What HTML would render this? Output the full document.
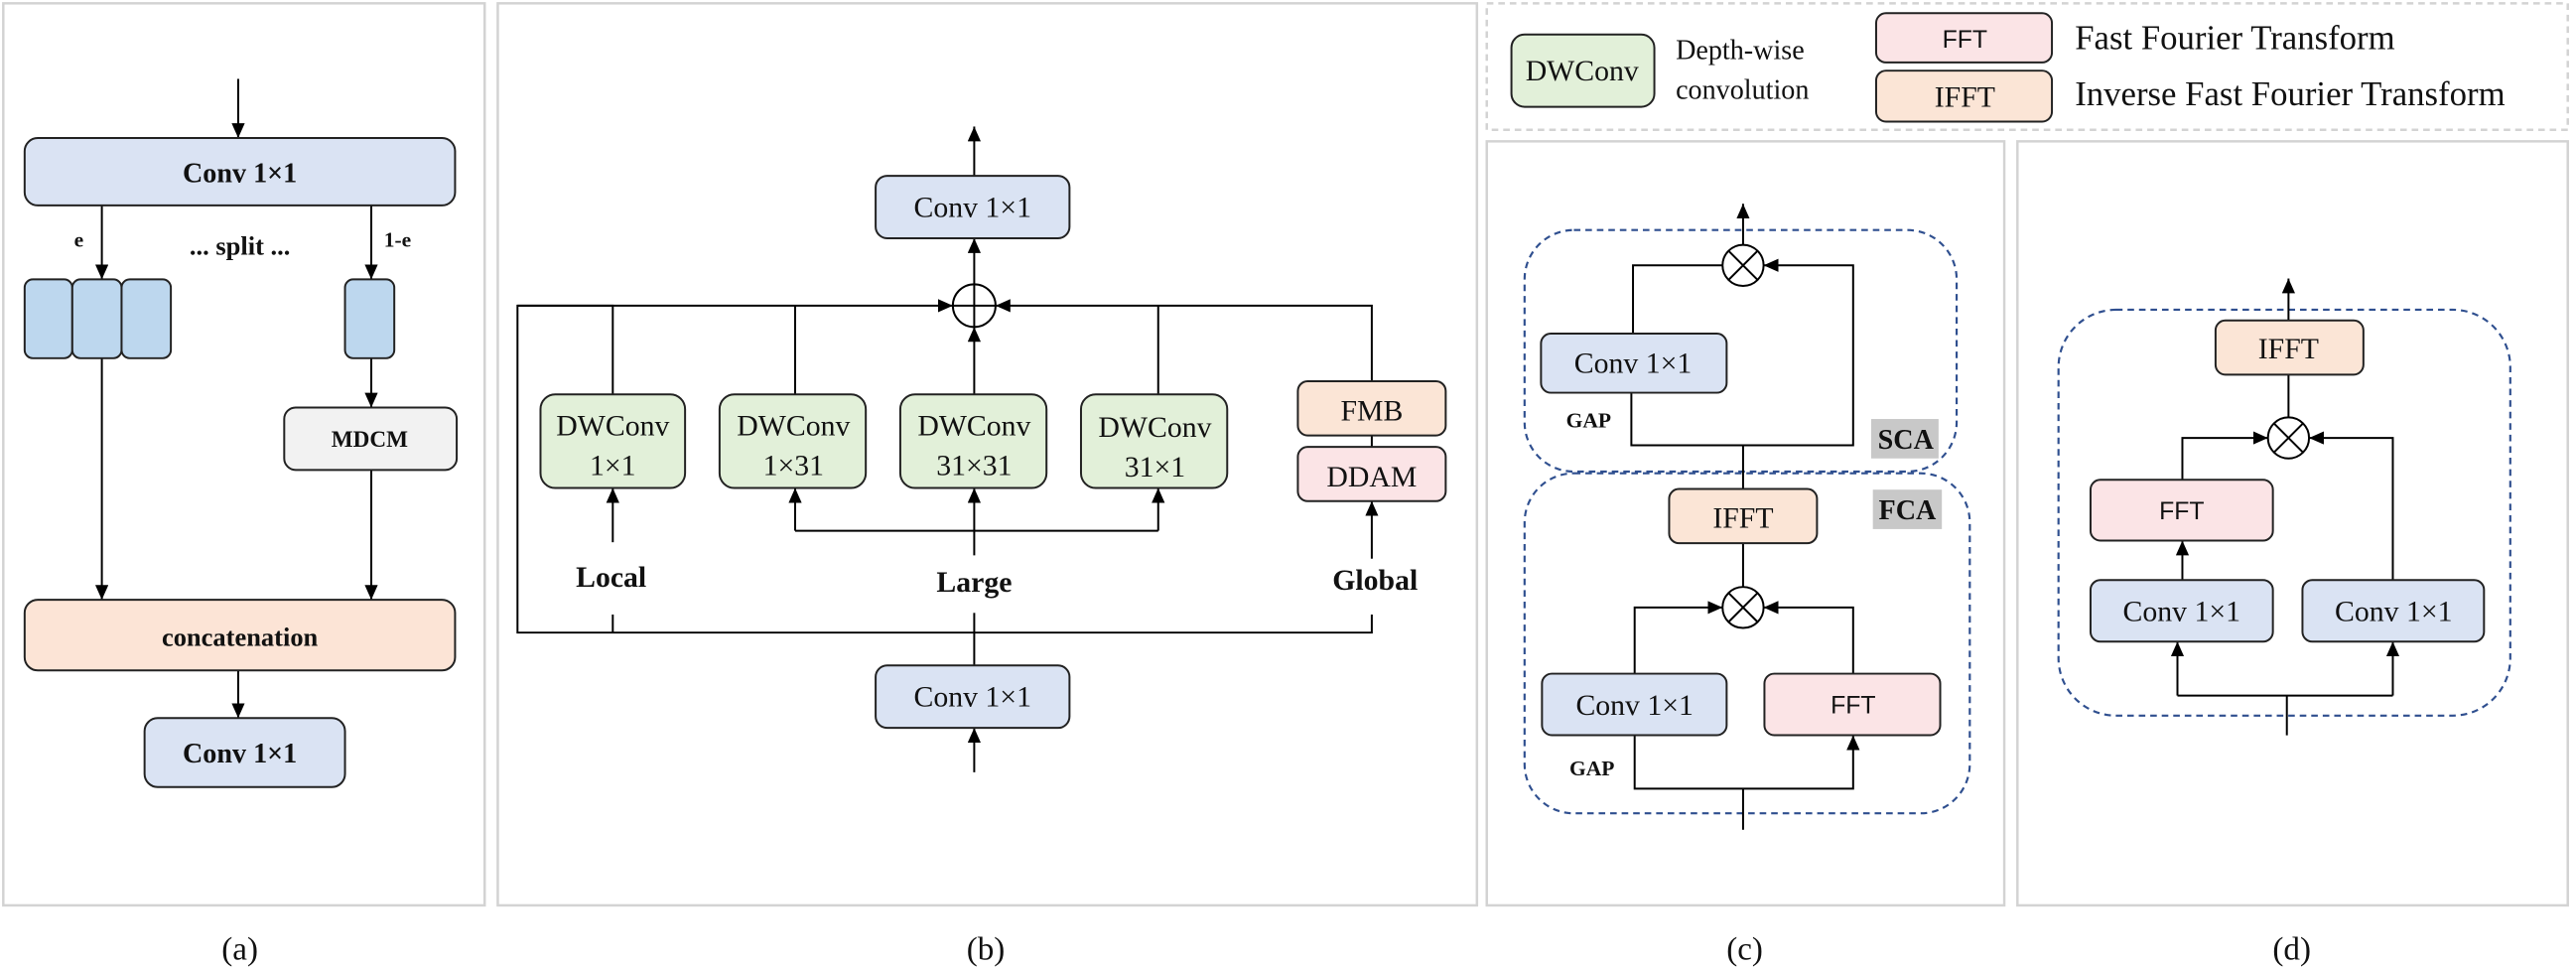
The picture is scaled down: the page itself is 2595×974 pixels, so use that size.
<!DOCTYPE html>
<html><head><meta charset="utf-8"><style>
html,body{margin:0;padding:0;background:#fff;}
svg{display:block}
text{font-family:"Liberation Serif",serif;fill:#111;}
.b{font-weight:bold}
.s{font-family:"Liberation Sans",sans-serif;}
</style></head><body>
<svg width="2595" height="974" viewBox="0 0 1568 588.5" xmlns="http://www.w3.org/2000/svg">
<defs>
<marker id="ar" markerUnits="userSpaceOnUse" markerWidth="10" markerHeight="10" refX="9" refY="4" orient="auto">
<path d="M0,0 L9,4 L0,8 z" fill="#000"/>
</marker>
</defs>
<g fill="none" stroke="#d3d3d3" stroke-width="1.5">
<rect x="2" y="2" width="293" height="549"/>
<rect x="303" y="2" width="596" height="549"/>
<rect x="905" y="86" width="315" height="465"/>
<rect x="1228" y="86" width="335" height="465"/>
<rect x="905" y="2" width="658" height="77" stroke-dasharray="4,3"/>
</g>
<g font-size="20" text-anchor="middle">
<text x="146" y="584">(a)</text><text x="600" y="584">(b)</text>
<text x="1062" y="584">(c)</text><text x="1395" y="584">(d)</text>
</g>

<!-- panel a -->
<g stroke="#000" stroke-width="1.2" fill="none">
<line x1="145" y1="48" x2="145" y2="84" marker-end="url(#ar)"/>
<line x1="62" y1="125" x2="62" y2="170" marker-end="url(#ar)"/>
<line x1="226" y1="125" x2="226" y2="170" marker-end="url(#ar)"/>
<line x1="226" y1="218" x2="226" y2="248" marker-end="url(#ar)"/>
<line x1="62" y1="218" x2="62" y2="365" marker-end="url(#ar)"/>
<line x1="226" y1="286" x2="226" y2="365" marker-end="url(#ar)"/>
<line x1="145" y1="408" x2="145" y2="437" marker-end="url(#ar)"/>
</g>
<g stroke="#222" stroke-width="1.2">
<rect x="15" y="84" width="262" height="41" rx="8" fill="#dae3f3"/>
<rect x="15" y="170" width="29" height="48" rx="5" fill="#bdd7ee"/>
<rect x="44" y="170" width="30" height="48" rx="5" fill="#bdd7ee"/>
<rect x="74" y="170" width="30" height="48" rx="5" fill="#bdd7ee"/>
<rect x="210" y="170" width="30" height="48" rx="5" fill="#bdd7ee"/>
<rect x="173" y="248" width="105" height="38" rx="7" fill="#f2f2f2"/>
<rect x="15" y="365" width="262" height="43" rx="8" fill="#fce4d6"/>
<rect x="88" y="437" width="122" height="42" rx="8" fill="#dae3f3"/>
</g>
<g class="b" text-anchor="middle">
<text x="146" y="111" font-size="17">Conv 1×1</text>
<text x="48" y="150" font-size="13">e</text>
<text x="146" y="155" font-size="16">... split ...</text>
<text x="242" y="150" font-size="13">1-e</text>
<text x="225" y="272" font-size="14">MDCM</text>
<text x="146" y="393" font-size="16">concatenation</text>
<text x="146" y="464" font-size="17">Conv 1×1</text>
</g>

<!-- panel b -->
<g stroke="#000" stroke-width="1.2" fill="none">
<line x1="593" y1="107" x2="593" y2="77" marker-end="url(#ar)"/>
<line x1="593" y1="173" x2="593" y2="145" marker-end="url(#ar)"/>
<polyline points="373,240 373,186 315,186 315,385 835,385 835,374"/>
<line x1="373" y1="374" x2="373" y2="385"/>
<line x1="315" y1="186" x2="580" y2="186" marker-end="url(#ar)"/>
<line x1="484" y1="240" x2="484" y2="186"/>
<line x1="705" y1="240" x2="705" y2="186"/>
<polyline points="835,232 835,186 606,186" marker-end="url(#ar)"/>
<line x1="593" y1="240" x2="593" y2="199" marker-end="url(#ar)"/>
<circle cx="593" cy="186" r="13"/>
<line x1="580" y1="186" x2="606" y2="186"/><line x1="593" y1="173" x2="593" y2="199"/>
<line x1="373" y1="330" x2="373" y2="297" marker-end="url(#ar)"/>
<polyline points="484,323 705,323"/>
<line x1="484" y1="323" x2="484" y2="297" marker-end="url(#ar)"/>
<line x1="705" y1="323" x2="705" y2="297" marker-end="url(#ar)"/>
<line x1="593" y1="338" x2="593" y2="297" marker-end="url(#ar)"/>
<line x1="835" y1="340" x2="835" y2="305" marker-end="url(#ar)"/>
<line x1="835" y1="265" x2="835" y2="272"/>
<line x1="593" y1="373" x2="593" y2="405"/>
<line x1="593" y1="470" x2="593" y2="443" marker-end="url(#ar)"/>
</g>
<g stroke="#222" stroke-width="1.2">
<rect x="533" y="107" width="118" height="38" rx="7" fill="#dae3f3"/>
<rect x="533" y="405" width="118" height="38" rx="7" fill="#dae3f3"/>
<rect x="329" y="240" width="88" height="57" rx="9" fill="#e2f0d9"/>
<rect x="438" y="240" width="89" height="57" rx="9" fill="#e2f0d9"/>
<rect x="548" y="240" width="89" height="57" rx="9" fill="#e2f0d9"/>
<rect x="658" y="240" width="89" height="57" rx="9" fill="#e2f0d9"/>
<rect x="790" y="232" width="90" height="33" rx="6" fill="#fbe5d6"/>
<rect x="790" y="272" width="90" height="33" rx="6" fill="#fbe4e6"/>
</g>
<g font-size="18" text-anchor="middle">
<text x="592" y="132">Conv 1×1</text>
<text x="592" y="430">Conv 1×1</text>
<text x="373" y="265">DWConv</text><text x="373" y="289">1×1</text>
<text x="483" y="265">DWConv</text><text x="483" y="289">1×31</text>
<text x="593" y="265">DWConv</text><text x="593" y="289">31×31</text>
<text x="703" y="266">DWConv</text><text x="703" y="290">31×1</text>
<text x="835" y="256">FMB</text>
<text x="835" y="296">DDAM</text>
<text x="372" y="357" class="b">Local</text>
<text x="593" y="360" class="b">Large</text>
<text x="837" y="359" class="b">Global</text>
</g>

<!-- legend -->
<g stroke="#222" stroke-width="1.2">
<rect x="920" y="21" width="87" height="44" rx="8" fill="#e2f0d9"/>
<rect x="1142" y="8" width="107" height="30" rx="6" fill="#fbe4e6"/>
<rect x="1142" y="43" width="107" height="31" rx="6" fill="#fbe5d6"/>
</g>
<text x="963" y="49" font-size="18" text-anchor="middle">DWConv</text>
<text x="1020" y="36" font-size="17">Depth-wise</text>
<text x="1020" y="60" font-size="17">convolution</text>
<text x="1196" y="29" font-size="15" text-anchor="middle" class="s">FFT</text>
<text x="1196" y="65" font-size="18" text-anchor="middle">IFFT</text>
<text x="1263" y="30" font-size="21">Fast Fourier Transform</text>
<text x="1263" y="64" font-size="21">Inverse Fast Fourier Transform</text>

<!-- panel c -->
<g fill="none" stroke="#2f4f8f" stroke-width="1.3" stroke-dasharray="4,3">
<rect x="928" y="140" width="263" height="147" rx="30"/>
<rect x="928" y="288" width="271" height="207" rx="30"/>
</g>
<g fill="#c8c8c8">
<rect x="1139" y="255" width="41" height="24"/>
<rect x="1140" y="298" width="42" height="24"/>
</g>
<g stroke="#000" stroke-width="1.2" fill="none">
<line x1="1061" y1="149" x2="1061" y2="124" marker-end="url(#ar)"/>
<circle cx="1061" cy="161.5" r="12.5"/>
<line x1="1052" y1="152.5" x2="1070" y2="170.5"/><line x1="1070" y1="152.5" x2="1052" y2="170.5"/>
<polyline points="994,203 994,161.5 1048.5,161.5"/>
<polyline points="993,239 993,271 1128,271 1128,161.5 1073.5,161.5" marker-end="url(#ar)"/>
<line x1="1061" y1="271" x2="1061" y2="297.6"/>
<line x1="1061" y1="331" x2="1061" y2="357"/>
<circle cx="1061" cy="369.7" r="12.5"/>
<line x1="1052" y1="360.7" x2="1070" y2="378.7"/><line x1="1070" y1="360.7" x2="1052" y2="378.7"/>
<polyline points="995,410 995,369.7 1048.5,369.7" marker-end="url(#ar)"/>
<polyline points="1128,410 1128,369.7 1073.5,369.7" marker-end="url(#ar)"/>
<polyline points="995,447 995,480 1128,480 1128,447.5" marker-end="url(#ar)"/>
<line x1="1061" y1="480" x2="1061" y2="505"/>
</g>
<g stroke="#222" stroke-width="1.2">
<rect x="938" y="203" width="113" height="36" rx="6" fill="#dae3f3"/>
<rect x="1016" y="297.6" width="90" height="33" rx="6" fill="#fbe5d6"/>
<rect x="938.6" y="410" width="112.4" height="37.4" rx="6" fill="#dae3f3"/>
<rect x="1074" y="410" width="107" height="37.4" rx="6" fill="#fbe4e6"/>
</g>
<g font-size="18" text-anchor="middle">
<text x="994" y="227">Conv 1×1</text>
<text x="1061" y="321">IFFT</text>
<text x="995" y="435">Conv 1×1</text>
<text x="1128" y="434" font-size="15" class="s">FFT</text>
</g>
<g class="b" text-anchor="middle">
<text x="967" y="260" font-size="13">GAP</text>
<text x="969" y="472" font-size="13">GAP</text>
<text x="1160" y="273" font-size="17">SCA</text>
<text x="1161" y="316" font-size="17">FCA</text>
</g>

<!-- panel d -->
<rect x="1253" y="188.5" width="275" height="247" rx="35" fill="none" stroke="#2f4f8f" stroke-width="1.3" stroke-dasharray="4,3"/>
<g stroke="#000" stroke-width="1.2" fill="none">
<line x1="1393" y1="195" x2="1393" y2="169.5" marker-end="url(#ar)"/>
<line x1="1393" y1="228" x2="1393" y2="254"/>
<circle cx="1393" cy="266.5" r="12.5"/>
<line x1="1384" y1="257.5" x2="1402" y2="275.5"/><line x1="1402" y1="257.5" x2="1384" y2="275.5"/>
<polyline points="1328.4,292 1328.4,266.5 1380.5,266.5" marker-end="url(#ar)"/>
<polyline points="1456.5,353 1456.5,266.5 1405.5,266.5" marker-end="url(#ar)"/>
<line x1="1328.4" y1="353" x2="1328.4" y2="329" marker-end="url(#ar)"/>
<polyline points="1325.4,423.3 1456.5,423.3"/>
<line x1="1325.4" y1="423.3" x2="1325.4" y2="390.5" marker-end="url(#ar)"/>
<line x1="1456.5" y1="423.3" x2="1456.5" y2="390.5" marker-end="url(#ar)"/>
<line x1="1392" y1="423.3" x2="1392" y2="447.5"/>
</g>
<g stroke="#222" stroke-width="1.2">
<rect x="1348.6" y="195" width="90" height="33" rx="6" fill="#fbe5d6"/>
<rect x="1272.5" y="292" width="111" height="37" rx="6" fill="#fbe4e6"/>
<rect x="1272.5" y="353" width="111" height="37.5" rx="6" fill="#dae3f3"/>
<rect x="1401.5" y="353" width="110.5" height="37.5" rx="6" fill="#dae3f3"/>
</g>
<g font-size="18" text-anchor="middle">
<text x="1393" y="218">IFFT</text>
<text x="1328" y="316" font-size="15" class="s">FFT</text>
<text x="1328" y="378">Conv 1×1</text>
<text x="1457" y="378">Conv 1×1</text>
</g>
</svg>
</body></html>
